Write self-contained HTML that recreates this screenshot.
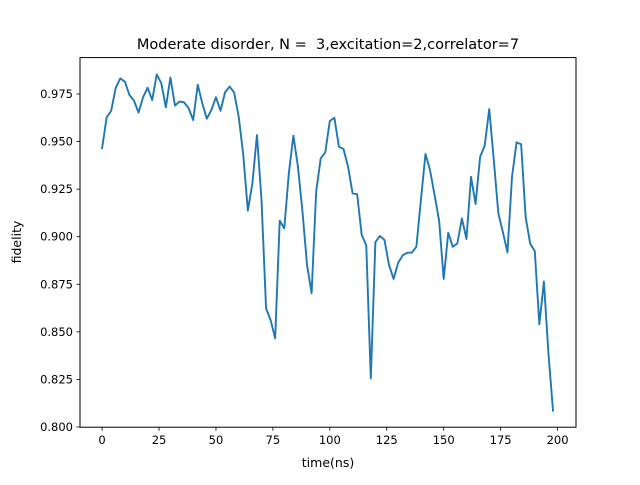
<!DOCTYPE html>
<html><head><meta charset="utf-8"><style>
body{margin:0;background:#fff}
svg text{font-family:"DejaVu Sans","Liberation Sans",sans-serif;fill:#000}
</style></head><body>
<svg id="chart" width="640" height="480" xmlns="http://www.w3.org/2000/svg">
<rect width="640" height="480" fill="#fff"/>
<text x="328" y="49" font-size="14.5" text-anchor="middle" xml:space="preserve" style="white-space:pre">Moderate disorder, N =  3,excitation=2,correlator=7</text>
<g id="plot"></g>
<rect x="80" y="57.6" width="496" height="369.6" fill="none" stroke="#000" stroke-width="1"/>
<text x="328" y="467" font-size="12.5" text-anchor="middle">time(ns)</text>
<text x="0" y="0" font-size="12.5" text-anchor="middle" transform="translate(21,242) rotate(-90)">fidelity</text>
</svg>
<script>
const times = [];
for (let t = 0; t <= 198; t += 2) times.push(t);
const fidelity = [0.9465,0.9627,0.9662,0.9783,0.9832,0.9815,0.9745,0.9715,0.9652,0.9733,
0.9783,0.9718,0.9853,0.9806,0.968,0.9837,0.9689,0.971,0.9706,0.9675,
0.9613,0.9799,0.9701,0.962,0.9666,0.9733,0.9662,0.9759,0.9789,0.9757,
0.963,0.943,0.9137,0.928,0.9534,0.9193,0.8624,0.8562,0.8466,0.9084,
0.9044,0.9333,0.9531,0.9368,0.9131,0.8851,0.8703,0.9237,0.9412,0.9443,
0.9608,0.9625,0.9473,0.9461,0.9368,0.9228,0.9223,0.9009,0.8956,0.8256,
0.8971,0.9004,0.8983,0.8851,0.8778,0.8863,0.8902,0.8916,0.8916,0.8947,
0.9193,0.9435,0.935,0.9219,0.9084,0.8778,0.9021,0.8947,0.8965,0.9096,
0.8988,0.9315,0.9172,0.942,0.9478,0.9671,0.9403,0.9123,0.9023,0.8918,
0.9315,0.9496,0.9486,0.9102,0.8962,0.8925,0.854,0.8764,0.8387,0.8086];
const xTicks = [0,25,50,75,100,125,150,175,200];
const yTicks = [0.800,0.825,0.850,0.875,0.900,0.925,0.950,0.975];
const yTickLabels = ["0.800","0.825","0.850","0.875","0.900","0.925","0.950","0.975"];

const L=80,R=576,T=57.6,B=427.2;
const xmin=-9.7,xmax=208.1,ymin=0.7999,ymax=0.99412;
const xs=v=>L+(v-xmin)/(xmax-xmin)*(R-L);
const ys=v=>B-(v-ymin)/(ymax-ymin)*(B-T);
const NS="http://www.w3.org/2000/svg";
const g=document.getElementById('plot');
function mk(tag,attrs){const e=document.createElementNS(NS,tag);for(const k in attrs)e.setAttribute(k,attrs[k]);g.appendChild(e);return e;}
xTicks.forEach(v=>{
  const x=xs(v);
  const tk=mk('line',{x1:x,x2:x,y1:B,y2:B+3.5,stroke:'#000','stroke-width':0.8});
  
  
  const tx=mk('text',{x:x,y:B+17,'font-size':11.5,'text-anchor':'middle'});
  tx.textContent=v;
  
  
});
yTicks.forEach((v,i)=>{
  const y=ys(v);
  const tk=mk('line',{x1:L-3.5,x2:L,y1:y,y2:y,stroke:'#000','stroke-width':0.8});
  
  
  const tx=mk('text',{x:L-7,y:y+4,'font-size':11.5,'text-anchor':'end'});
  tx.textContent=yTickLabels[i];
  
  
});
const pts=times.map((t,i)=>xs(t).toFixed(2)+','+ys(fidelity[i]).toFixed(2)).join(' ');
const line=mk('polyline',{points:pts,fill:'none',stroke:'#1f77b4','stroke-width':1.9,'stroke-linejoin':'round','stroke-linecap':'square'});


</script>
</body></html>
